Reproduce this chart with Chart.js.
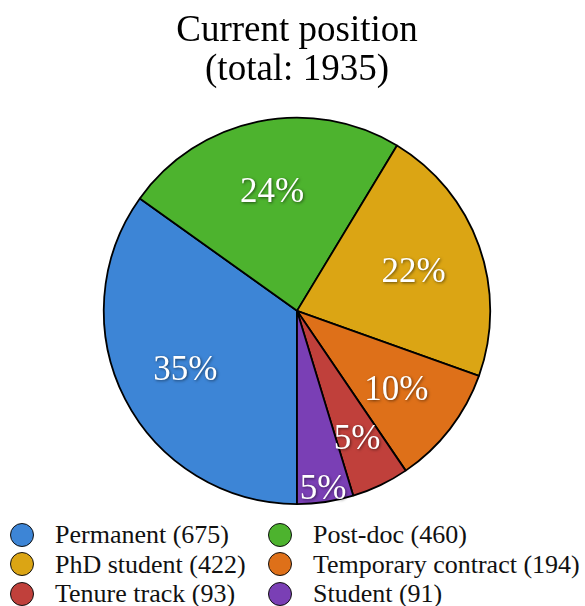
<!DOCTYPE html>
<html lang="en">
<head>
  <meta charset="UTF-8">
  <title>Current position</title>
  <script src="https://cdn.jsdelivr.net/npm/chart.js"></script>
  <style>
    body { margin: 0; background: #fff; font-family: "Liberation Serif", "Times New Roman", serif; }
    .wrap { width: 585px; height: 606px; position: relative; overflow: hidden; }
    #chartBox { position: absolute; left: 0; top: 0; width: 585px; height: 506px; }
    .legend { position: absolute; left: 10px; top: 520px; display: grid;
      grid-template-columns: 258px auto; font-size: 26px; color: #111; line-height: 29.5px; }
    .legend .item { display: flex; align-items: center; height: 29.5px; white-space: nowrap; }
    .legend .dot { width: 24px; height: 24px; border-radius: 50%; border: 1.5px solid #111;
      box-sizing: border-box; margin-right: 21px; flex: none; }
  </style>
</head>
<body>
<div class="wrap">
  <div id="chartBox"><canvas id="positionPie"></canvas></div>
  <div class="legend" id="legend"></div>
</div>
<script>
  const categories = ['Permanent', 'Post-doc', 'PhD student', 'Temporary contract', 'Tenure track', 'Student'];
  const counts = [675, 460, 422, 194, 93, 91];
  const percentLabels = ['35%', '24%', '22%', '10%', '5%', '5%'];
  const sliceColors = ['#3d85d6', '#4db32e', '#dba514', '#de7019', '#c0403b', '#7a3fb5'];
  const total = 1935;

  // how far out (fraction of radius) each percentage sits
  const labelRadius = [0.65, 0.64, 0.64, 0.65, 0.72, 0.92];

  const pctPlugin = {
    id: 'pctLabels',
    afterDatasetsDraw(chart) {
      const ctx = chart.ctx;
      const arcs = chart.getDatasetMeta(0).data;
      ctx.save();
      ctx.font = '35px "Liberation Serif", serif';
      ctx.fillStyle = '#fff';
      ctx.textAlign = 'center';
      ctx.textBaseline = 'middle';
      ctx.shadowColor = 'rgba(0,0,0,0.55)';
      ctx.shadowBlur = 3;
      ctx.shadowOffsetX = 1;
      ctx.shadowOffsetY = 1;
      arcs.forEach((arc, i) => {
        const mid = (arc.startAngle + arc.endAngle) / 2;
        const r = arc.outerRadius * labelRadius[i];
        ctx.fillText(percentLabels[i], arc.x + Math.cos(mid) * r, arc.y + Math.sin(mid) * r + 3);
      });
      ctx.restore();
    }
  };

  function renderPie() {
    const ctx = document.getElementById('positionPie').getContext('2d');
    new Chart(ctx, {
      type: 'pie',
      data: {
        labels: categories,
        datasets: [{
          data: counts,
          backgroundColor: sliceColors,
          borderColor: '#000',
          borderWidth: 1.8,
          hoverOffset: 0
        }]
      },
      options: {
        responsive: true,
        maintainAspectRatio: false,
        animation: false,
        rotation: 180,
        layout: { padding: { left: 9, top: 0, right: 0, bottom: 1 } },
        plugins: {
          legend: { display: false },
          tooltip: { enabled: false },
          title: {
            display: true,
            text: ['Current position', '(total: ' + total + ')'],
            color: '#000',
            font: { family: '"Liberation Serif", serif', size: 37, weight: 'normal', lineHeight: 1.05 },
            padding: { top: 12, bottom: 27 }
          }
        }
      },
      plugins: [pctPlugin]
    });
  }

  function buildLegend() {
    const box = document.getElementById('legend');
    categories.forEach((name, i) => {
      const item = document.createElement('div');
      item.className = 'item';
      const dot = document.createElement('span');
      dot.className = 'dot';
      dot.style.background = sliceColors[i];
      item.appendChild(dot);
      item.appendChild(document.createTextNode(name + ' (' + counts[i] + ')'));
      box.appendChild(item);
    });
  }

  buildLegend();
  renderPie();
</script>
</body>
</html>
